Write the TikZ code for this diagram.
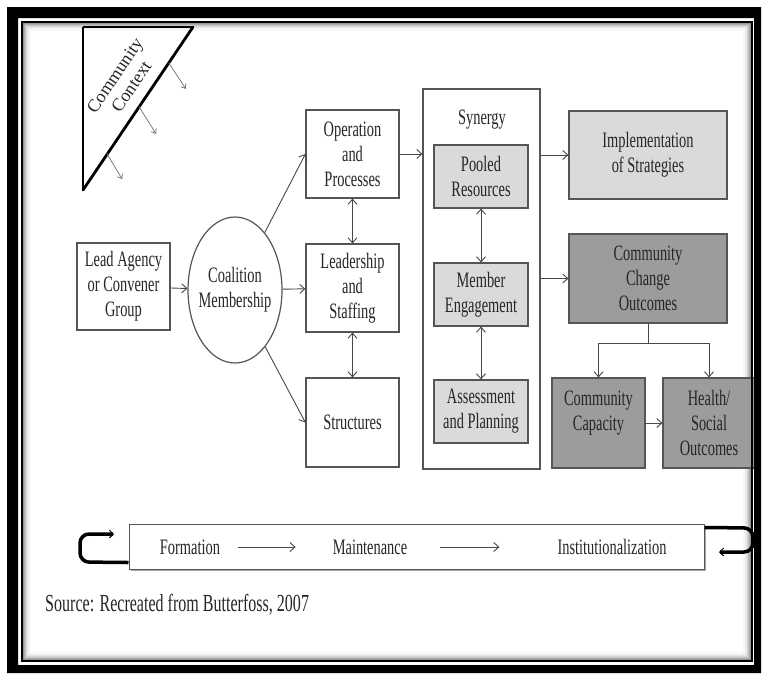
\documentclass[tikz,border=0pt]{standalone}
\usepackage{fontspec}
\setmainfont{Liberation Serif}[FakeStretch=0.655]
\newfontfamily\plainserif{Liberation Serif}
\usetikzlibrary{arrows.meta,shapes.geometric,calc}
\definecolor{txt}{HTML}{262626}
\definecolor{edge}{HTML}{555555}
\definecolor{lightfill}{HTML}{DADADA}
\definecolor{darkfill}{HTML}{9C9C9C}
\definecolor{arrcol}{HTML}{484848}
\begin{document}
\begin{tikzpicture}[x=1pt,y=-1pt,
  every node/.style={text=txt, font=\fontsize{22}{25}\selectfont},
  box/.style args={#1/#2}{draw=edge, line width=1.2pt, inner sep=0pt,
    minimum width=#1pt, minimum height=#2pt, align=center},
  lbox/.style={fill=lightfill},
  dbox/.style={fill=darkfill},
  arr/.style={draw=arrcol, line width=0.9pt, -{Straight Barb[length=5pt,width=9pt]}},
  darr/.style={draw=arrcol, line width=0.9pt, {Straight Barb[length=5pt,width=9pt]}-{Straight Barb[length=5pt,width=9pt]}},
  ln/.style={draw=arrcol, line width=0.9pt},
  loopln/.style={draw=black, line width=3.5pt, rounded corners=9pt,
    -{Straight Barb[length=4pt,width=8pt,line width=1pt]}},
  small/.style={draw=arrcol!80, line width=0.7pt, -{Straight Barb[length=4pt,width=6pt]}}
]
\fill[white] (0,0) rectangle (762,673);
\useasboundingbox (0,0) rectangle (762,673);

% inner shadow of the frame
\foreach \i/\c in {1/55,2/42,3/32,4/23,5/16,6/10,7/6,8/3}
  \draw[black!\c, line width=1.1pt] (22+\i,22+\i) rectangle (752-\i,661-\i);

% community context triangle
\draw[black, line width=2pt] (83,27) -- (193,27);
\draw[black, line width=1.8pt] (83,27) -- (83,190);
\draw[black, line width=2.8pt, line cap=round] (193,27) -- (83,190);
\path (193,27) -- (83,190)
  coordinate[pos=0.22] (h1) coordinate[pos=0.49] (h2) coordinate[pos=0.78] (h3);
\draw[small] (h1) -- +(17,26);
\draw[small] (h2) -- +(17,27);
\draw[small] (h3) -- +(15,25);
\node[rotate=56, align=center, inner sep=0pt,
      font=\plainserif\fontsize{18}{20}\selectfont] (ctx) at (123,81) {Community\\Context};

% left part
\node[box=93/87] (lead) at (123.5,286.5) {Lead Agency\\or Convener\\Group};
\node[draw=edge, line width=1.2pt, ellipse, minimum width=94pt, minimum height=146pt,
      inner sep=0pt, label={[align=center]center:Coalition\\Membership}] (coal) at (235,290) {};

\node[box=93/88] (oper) at (352.5,154) {Operation\\and\\Processes};
\node[box=93/88] (lstaff) at (352.5,288) {Leadership\\and\\Staffing};
\node[box=93/89] (struct) at (352.5,422.5) {Structures};

% synergy
\node[box=117/380] (syn) at (481.5,279) {};
\node[inner sep=0pt] (synl) at (482,120) {Synergy};
\node[box=94/63, lbox] (pooled) at (481,176.5) {Pooled\\Resources};
\node[box=94/63, lbox] (member) at (481,294.5) {Member\\Engagement};
\node[box=94/63, lbox] (assess) at (481,411.5) {Assessment\\and Planning};

% outcomes
\node[box=158/88, lbox] (impl) at (648,155) {Implementation\\of Strategies};
\node[box=158/89, dbox] (ccout) at (648,278.5) {Community\\Change\\Outcomes};
\node[box=93/90, dbox] (ccap) at (598.5,423) {Community\\Capacity\\\phantom{Outcomes}};
\node[box=92/90, dbox] (health) at (709,423) {Health/\\Social\\Outcomes};

% connectors
\draw[arr] (lead) -- (coal);
\draw[arr] (coal) -- (lstaff);
\draw[arr] (coal) -- (oper.west);
\draw[arr] (coal) -- (struct.west);
\draw[darr] (oper) -- (lstaff);
\draw[darr] (lstaff) -- (struct);
\draw[arr] (oper.east) -- (syn.west |- oper.east);
\draw[darr] (pooled) -- (member);
\draw[darr] (member) -- (assess);
\draw[arr] (syn.east |- impl.west) -- (impl.west);
\draw[arr] (syn.east |- ccout.west) -- (ccout.west);
\coordinate (br) at (648,343);
\draw[ln] (ccout.south) -- (br);
\draw[arr] (br) -| (ccap.north);
\draw[arr] (br) -| (health.north);
\draw[arr] (ccap) -- (health);

% stage bar
\fill[black!35] (131,526) rectangle (706,571);
\node[draw=edge, line width=1pt, fill=white, minimum width=575pt, minimum height=45pt, inner sep=0pt] (bar) at (416.5,546.5) {};
\node[inner sep=0pt] (form) at (190,547) {Formation};
\node[inner sep=0pt] (maint) at (370,547) {Maintenance};
\node[inner sep=0pt] (inst) at (612,547) {Institutionalization};
\draw[arr] ([xshift=18pt]form.east) -- ([xshift=-37pt]maint.west);
\draw[arr] ([xshift=33pt]maint.east) -- ([xshift=-58pt]inst.west);
\coordinate (lt) at (114,534);
\coordinate (rt) at (719,552);
\draw[loopln] ($(bar.south west)+(0,-7)$) -- (80,562) -- (80,534) -- (lt);
\draw[loopln] ($(bar.north east)+(0,4)$) -- (753,528) -- (753,552) -- (rt);

% source
\node[anchor=west, inner sep=0pt, font=\fontsize{24.5}{26}\selectfont] (src) at (45,605) {Source: Recreated from Butterfoss, 2007};

% frame
\fill[black, even odd rule] (7,7) rectangle (761,673) (18,18) rectangle (754,665);
\draw[black, line width=2pt] (22,22) rectangle (752,661);
\end{tikzpicture}
\end{document}
